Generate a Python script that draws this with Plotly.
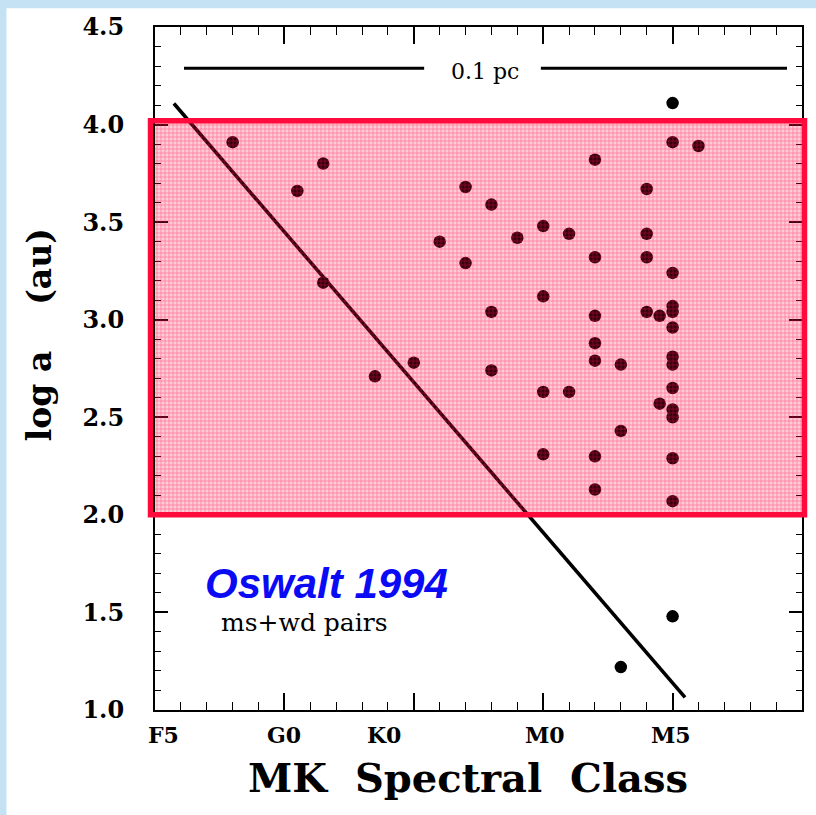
import plotly.graph_objects as go

# ---- data -------------------------------------------------------------
# spectral-class axis: one unit per minor tick, major ticks every 5 units
spectral_labels = ["F5", "G0", "K0", "M0", "M5"]
spectral_pos = [0.31, 5.0, 8.86, 15.06, 19.95]

y_tick_vals = [1.0, 1.5, 2.0, 2.5, 3.0, 3.5, 4.0, 4.5]
y_tick_text = ["1.0", "1.5", "2.0", "2.5", "3.0", "3.5", "4.0", "4.5"]

# main-sequence + white-dwarf pairs: spectral position and log separation (au)
pair_class = [3, 5.5, 6.5, 6.5, 8.5, 10, 11, 12, 12, 13, 13, 13, 14,
              15, 15, 15, 15, 16, 16,
              17, 17, 17, 17, 17, 17, 17,
              18, 18, 18,
              19, 19, 19, 19, 19.5, 19.5,
              20, 20, 20, 20, 20, 20, 20, 20, 20, 20, 20, 20, 20, 20,
              21]
pair_loga = [3.91, 3.66, 3.80, 3.19, 2.71, 2.78, 3.40, 3.68, 3.29, 3.59, 3.04, 2.74, 3.42,
             3.48, 3.12, 2.63, 2.31, 3.44, 2.63,
             3.82, 3.32, 3.02, 2.88, 2.79, 2.30, 2.13,
             2.77, 2.43, 1.22,
             3.67, 3.44, 3.32, 3.04, 3.02, 2.57,
             4.11, 3.91, 3.24, 3.07, 3.04, 2.96, 2.81, 2.77, 2.65, 2.54, 2.50, 2.29, 2.07, 1.48,
             3.89]

# dividing line across the diagram
limit_class = [0.73, 20.48]
limit_loga = [4.108, 1.065]

# 0.1 pc scale bar (two segments either side of its label)
bar_left = [1.12, 10.40]
bar_right = [14.91, 24.42]
bar_loga = 4.289

# highlighted separation band
band_lo, band_hi = 2.0, 4.02

x_range = [0, 25]
y_range = [1.0, 4.5]

# ---- figure -----------------------------------------------------------
W, H = 816, 815
ML, MR, MT, MB = 155, 12, 22, 105
PW, PH = W - ML - MR, H - MT - MB


def px_to_paper_x(px):
    return (px - ML) / PW


def px_to_paper_y(py):
    return (H - py - MB) / PH


def data_to_paper_y(v):
    return (v - y_range[0]) / (y_range[1] - y_range[0])


serif = "DejaVu Serif"
fig = go.Figure()

fig.add_trace(go.Scatter(
    x=limit_class, y=limit_loga, mode="lines",
    line=dict(color="black", width=3.6), hoverinfo="skip", showlegend=False))

for seg in (bar_left, bar_right):
    fig.add_trace(go.Scatter(
        x=seg, y=[bar_loga, bar_loga], mode="lines",
        line=dict(color="black", width=3), hoverinfo="skip", showlegend=False))

fig.add_trace(go.Scatter(
    x=pair_class, y=pair_loga, mode="markers",
    marker=dict(color="black", size=12.5, line=dict(width=0)),
    showlegend=False))

# translucent hatched band laid over the points
fig.add_trace(go.Scatter(
    x=[x_range[0], x_range[1], x_range[1], x_range[0], x_range[0]],
    y=[band_lo, band_lo, band_hi, band_hi, band_lo],
    mode="none", fill="toself",
    fillcolor="rgba(255,10,60,0.22)",
    fillpattern=dict(shape="+", size=4, solidity=0.3,
                     fgcolor="rgba(255,10,70,0.5)",
                     bgcolor="rgba(255,10,60,0.21)", fgopacity=1),
    hoverinfo="skip", showlegend=False))

shapes = [
    # white page with a pale blue edge showing on the left and top
    dict(type="rect", xref="paper", yref="paper", layer="below",
         x0=px_to_paper_x(6), x1=px_to_paper_x(W + 2),
         y0=px_to_paper_y(H + 2), y1=px_to_paper_y(3),
         fillcolor="white", line=dict(width=0)),
    # red outline of the band
    dict(type="rect", xref="paper", yref="paper", layer="above",
         x0=px_to_paper_x(150.5), x1=px_to_paper_x(806.5),
         y0=data_to_paper_y(band_lo), y1=data_to_paper_y(band_hi),
         line=dict(color="#FF0A3C", width=5.5), fillcolor="rgba(0,0,0,0)"),
]

centered = dict(showarrow=False, xanchor="center", yanchor="middle")
annotations = [
    dict(text="0.1 pc", x=12.75, y=4.272, xref="x", yref="y",
         font=dict(family=serif, size=22, color="black"), **centered),
    dict(text="<b><i>Oswalt 1994</i></b>", x=6.61, y=1.649, xref="x", yref="y",
         font=dict(family="Liberation Sans", size=42, color="#0A0AF5"), **centered),
    dict(text="ms+wd pairs", x=5.76, y=1.449, xref="x", yref="y",
         font=dict(family=serif, size=25, color="black"), **centered),
    dict(text="<b>MK\u00a0 Spectral\u00a0 Class</b>", x=px_to_paper_x(469),
         y=px_to_paper_y(778), xref="paper", yref="paper",
         font=dict(family=serif, size=40, color="black"), **centered),
    dict(text="<b>log a\u00a0\u00a0\u00a0\u00a0(au)</b>", x=px_to_paper_x(38.6),
         y=px_to_paper_y(331.5), xref="paper", yref="paper", textangle=-90,
         font=dict(family=serif, size=33, color="black"), **centered),
]
for lab, pos in zip(spectral_labels, spectral_pos):
    annotations.append(dict(
        text="<b>%s</b>" % lab, x=pos, y=px_to_paper_y(735), xref="x", yref="paper",
        font=dict(family=serif, size=22, color="black"), **centered))

fig.update_layout(
    width=W, height=H, autosize=False,
    margin=dict(l=ML, r=MR, t=MT, b=MB, pad=0),
    paper_bgcolor="#C5E1F4", plot_bgcolor="rgba(0,0,0,0)",
    shapes=shapes, annotations=annotations, showlegend=False,
    xaxis=dict(range=x_range, showgrid=False, zeroline=False,
               showline=True, linecolor="black", linewidth=2, mirror="ticks",
               ticks="inside", tickvals=[0, 5, 10, 15, 20, 25], ticklen=17,
               tickwidth=1.5, tickcolor="black", showticklabels=False,
               layer="below traces",
               minor=dict(dtick=1, ticks="inside", ticklen=8, tickwidth=1.2,
                          tickcolor="black", showgrid=False)),
    yaxis=dict(range=y_range, showgrid=False, zeroline=False,
               showline=True, linecolor="black", linewidth=2, mirror="ticks",
               ticks="inside", tickvals=y_tick_vals, ticktext=y_tick_text,
               ticklen=13, tickwidth=1.5, tickcolor="black",
               ticklabelstandoff=24, layer="below traces",
               tickfont=dict(family=serif, size=24, color="black", weight="bold"),
               minor=dict(dtick=0.1, ticks="inside", ticklen=6, tickwidth=1.2,
                          tickcolor="black", showgrid=False)),
)

fig.write_html("out.html")
